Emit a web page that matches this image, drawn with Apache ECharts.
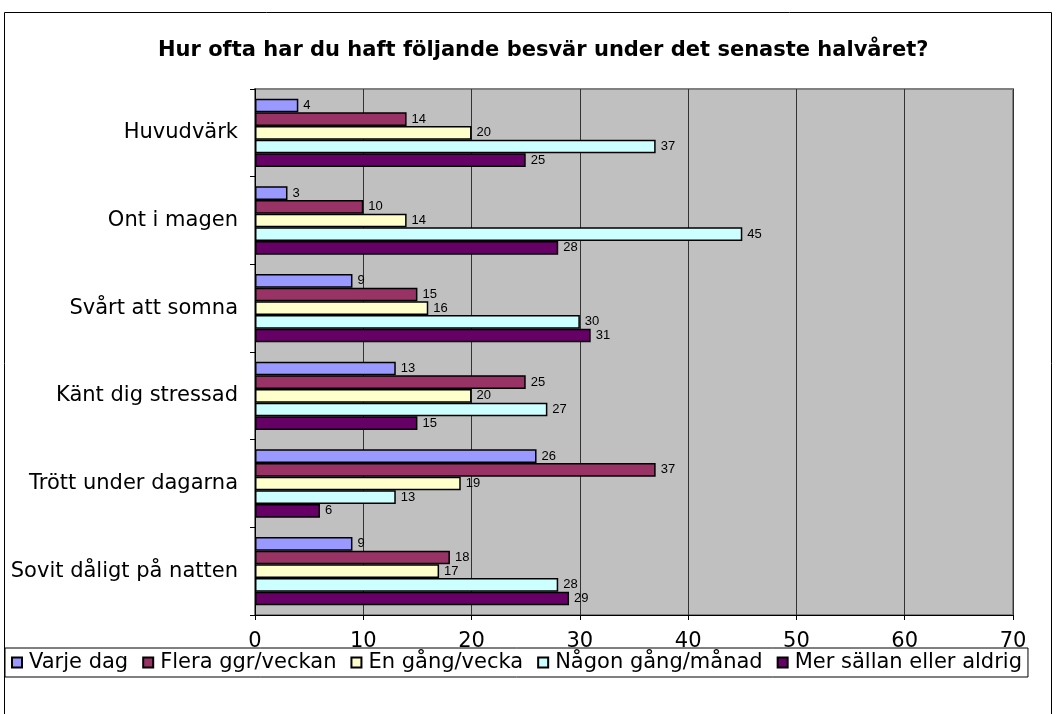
<!DOCTYPE html>
<html>
<head>
<meta charset="utf-8">
<script src="https://cdn.jsdelivr.net/npm/echarts@6/dist/echarts.min.js"></script>
<style>
html,body{margin:0;padding:0;background:#fff;}
#chart{width:1056px;height:714px;}
</style>
</head>
<body>
<div id="chart"></div>
<script>
const titleText = 'Hur ofta har du haft följande besvär under det senaste halvåret?';
const categories = ['Huvudvärk', 'Ont i magen', 'Svårt att somna', 'Känt dig stressad', 'Trött under dagarna', 'Sovit dåligt på natten'];
const seriesNames = ['Varje dag', 'Flera ggr/veckan', 'En gång/vecka', 'Någon gång/månad', 'Mer sällan eller aldrig'];
const varjeDag = [4, 3, 9, 13, 26, 9];
const fleraGgr = [14, 10, 15, 25, 37, 18];
const enGang = [20, 14, 16, 20, 19, 17];
const nagonGang = [37, 45, 30, 27, 13, 28];
const merSallan = [25, 28, 31, 15, 6, 29];
const xTicks = [0, 10, 20, 30, 40, 50, 60, 70];
const colors = ['#9999FF', '#993366', '#FFFFCC', '#CCFFFF', '#660066'];

const dataSets = [varjeDag, fleraGgr, enGang, nagonGang, merSallan];

const chart = echarts.init(document.getElementById('chart'));
chart.setOption({
  animation: false,
  color: colors,
  textStyle: { fontFamily: 'DejaVu Sans' },
  graphic: [{
    type: 'rect',
    shape: { x: 4.5, y: 12.5, width: 1047, height: 720 },
    style: { fill: 'none', stroke: '#000', lineWidth: 1 },
    z: -10
  }],
  title: {
    text: titleText,
    left: 153,
    top: 35,
    textStyle: { fontFamily: 'DejaVu Sans', fontSize: 21, fontWeight: 'bold', color: '#000' }
  },
  legend: {
    data: seriesNames,
    left: 5,
    top: 648,
    orient: 'horizontal',
    icon: 'rect',
    itemWidth: 10,
    itemHeight: 10,
    itemGap: 14,
    padding: [4, 6, 4, 6],
    borderColor: '#000',
    borderWidth: 1,
    textStyle: { fontFamily: 'DejaVu Sans', fontSize: 21, color: '#000', padding: [0, 0, 0, 2] }
  },
  grid: {
    left: 255,
    right: 43,
    top: 89,
    height: 526,
    show: true,
    backgroundColor: '#C0C0C0',
    borderColor: '#808080',
    borderWidth: 2
  },
  xAxis: {
    type: 'value',
    min: 0,
    max: 70,
    interval: 10,
    axisLine: { show: true, lineStyle: { color: '#000', width: 1 } },
    axisTick: { show: true, length: 5, lineStyle: { color: '#000' } },
    axisLabel: {
      margin: 16,
      fontFamily: 'DejaVu Sans',
      fontSize: 21,
      color: '#000',
      formatter: function (v) { return xTicks.indexOf(v) >= 0 ? String(v) : ''; }
    },
    splitLine: { show: true, lineStyle: { color: '#333', width: 1 } }
  },
  yAxis: {
    type: 'category',
    data: categories,
    inverse: true,
    axisLine: { show: true, lineStyle: { color: '#000', width: 1 } },
    axisTick: { show: true, length: 5, lineStyle: { color: '#000' } },
    axisLabel: { margin: 17, fontFamily: 'DejaVu Sans', fontSize: 21, color: '#000' },
    splitLine: { show: false }
  },
  series: dataSets.map(function (d, i) {
    return {
      name: seriesNames[i],
      type: 'bar',
      data: d,
      barGap: '0%',
      barCategoryGap: '22%',
      itemStyle: { color: colors[i], borderColor: '#000', borderWidth: 1.5 },
      label: {
        show: true,
        position: 'right',
        distance: 5,
        fontFamily: 'Liberation Sans',
        fontSize: 13,
        color: '#000'
      }
    };
  })
});
</script>
</body>
</html>
